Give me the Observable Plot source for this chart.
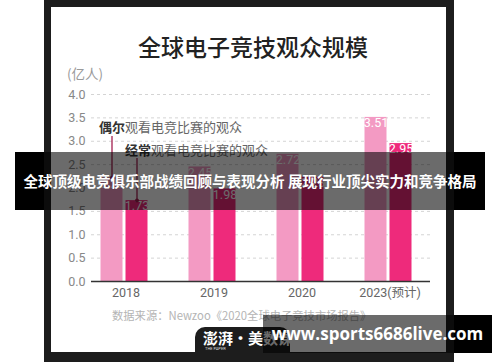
<!DOCTYPE html>
<html><head><meta charset="utf-8">
<script src="https://cdn.jsdelivr.net/npm/d3@7"></script>
<script src="https://cdn.jsdelivr.net/npm/@observablehq/plot@0.6"></script>
<style>
html,body{margin:0;padding:0;background:#fff;width:500px;height:362px;overflow:hidden;font-family:"Noto Sans CJK SC",sans-serif;position:relative}
.abs{position:absolute}
#bannerBase{left:15px;top:152px;width:470px;height:58px;background:#000;z-index:0}
#wmBase{left:263px;top:315px;width:229px;height:38px;background:#000;z-index:0}
#frame{left:44px;top:0;width:410px;height:362px;background:#1d1d1d;z-index:1}
#card{left:51px;top:7px;width:395px;height:345px;background:#fff;z-index:2}
#tab{left:195px;top:327px;width:95px;height:30px;background:#1d1d1d;border-radius:10px 10px 0 0;z-index:2}
#chart{left:0;top:0;z-index:3}
#title{left:138px;top:30px;font-size:23px;font-weight:500;color:#222;z-index:4;line-height:32px;white-space:nowrap}
#unit{left:67px;top:64px;font-size:13.5px;color:#9a9a9a;z-index:4;white-space:nowrap;line-height:18px}
#source{left:112px;top:307px;font-size:11.3px;color:#b4b4b4;z-index:4;white-space:nowrap;line-height:16px}
#tabText{left:203px;top:329px;font-size:15px;color:#fff;font-weight:bold;z-index:4;white-space:nowrap;line-height:18px}
#tabSmall{left:205px;top:346px;font-size:4px;color:#ddd;z-index:4;white-space:nowrap;line-height:5px;font-family:Roboto,sans-serif}
#bannerShade{left:44px;top:152px;width:410px;height:58px;background:rgba(0,0,0,0.58);z-index:5}
#bannerText{left:0;top:152px;width:500px;height:58px;line-height:58px;text-align:center;color:#fff;font-weight:bold;font-size:14.5px;z-index:6;white-space:nowrap}
#wmShade{left:263px;top:315px;width:191px;height:38px;background:rgba(0,0,0,0.58);z-index:5}
#wmText{left:263px;top:315px;width:229px;height:38px;line-height:38px;text-align:center;color:#fff;font-weight:bold;font-size:17px;z-index:6;white-space:nowrap;font-family:"Open Sans",sans-serif}
</style>
</head><body>
<div id="bannerBase" class="abs"></div>
<div id="wmBase" class="abs"></div>
<div id="frame" class="abs"></div>
<div id="card" class="abs"></div>
<div id="tab" class="abs"></div>
<div id="chart" class="abs"></div>
<div id="title" class="abs">全球电子竞技观众规模</div>
<div id="unit" class="abs">(亿人)</div>
<div id="source" class="abs">数据来源：Newzoo《2020全球电子竞技市场报告》</div>
<div id="tabText" class="abs">澎湃·美数课</div>
<div id="tabSmall" class="abs">THE PAPER</div>
<div id="bannerShade" class="abs"></div>
<div id="bannerText" class="abs">全球顶级电竞俱乐部战绩回顾与表现分析 展现行业顶尖实力和竞争格局</div>
<div id="wmShade" class="abs"></div>
<div id="wmText" class="abs">www.sports6686live.com</div>
<script>
const years = ["2018", "2019", "2020", "2023(预计)"];
const occasional = [2.22, 2.45, 2.72, 3.51];
const enthusiast = [1.73, 1.98, 2.23, 2.95];
const seriesNames = ["偶尔", "经常"];
const seriesRest = "观看电竞比赛的观众";
const yTicks = [0, 0.5, 1.0, 1.5, 2.0, 2.5, 3.0, 3.5, 4.0];
const annotTextY = [3.29, 2.80];
const annotLineTop = [3.10, 2.63];

const lightPink = "#f39ac3";
const darkPink = "#ee2a7b";
const lineColor = "#a3204f";

const occRows = years.map((y, i) => ({year: y, value: occasional[i]}));
const entRows = years.map((y, i) => ({year: y, value: enthusiast[i]}));
const annot = [
  {year: years[0], top: annotLineTop[0], bottom: occasional[0], ty: annotTextY[0], label: seriesNames[0], off: -12.5},
  {year: years[0], top: annotLineTop[1], bottom: enthusiast[0], ty: annotTextY[1], label: seriesNames[1], off: 12.5}
];

const chart = Plot.plot({
  width: 500, height: 362,
  marginLeft: 91, marginRight: 70, marginTop: 94, marginBottom: 81,
  style: {background: "transparent", fontFamily: "Roboto, 'Noto Sans CJK SC', sans-serif", fontSize: "12px"},
  x: {domain: years, range: [79.4, 432.2], paddingInner: 0.75, paddingOuter: 0.375, align: 0.5, label: null},
  y: {domain: [0, 4], label: null},
  marks: [
    Plot.ruleY(yTicks.filter(d => d > 0), {stroke: "#d4d4d4", strokeDasharray: "3,3", strokeWidth: 1}),
    Plot.barY(occRows, {x: "year", y: "value", fill: lightPink, dx: -12.5}),
    Plot.barY(entRows, {x: "year", y: "value", fill: darkPink, dx: 12.5}),
    Plot.text(occRows, {x: "year", y: "value", text: d => d.value.toFixed(2), dx: -12.5, dy: 1, lineAnchor: "top", fill: "#fff", fontSize: 12.5}),
    Plot.text(entRows, {x: "year", y: "value", text: d => d.value.toFixed(2), dx: 12.5, dy: 1, lineAnchor: "top", fill: "#fff", fontSize: 12.5}),
    Plot.ruleY([0], {stroke: "#333", strokeWidth: 1.5}),
    Plot.ruleX([annot[0]], {x: "year", y1: "top", y2: "bottom", dx: -12.5, stroke: lineColor, strokeWidth: 1.3}),
    Plot.ruleX([annot[1]], {x: "year", y1: "top", y2: "bottom", dx: 12.5, stroke: lineColor, strokeWidth: 1.3}),
    Plot.dot([annot[0]], {x: "year", y: "bottom", dx: -12.5, r: 2, fill: lineColor}),
    Plot.dot([annot[1]], {x: "year", y: "bottom", dx: 12.5, r: 2, fill: lineColor}),
    Plot.text([annot[0]], {x: "year", y: "ty", text: "label", dx: -25.5, textAnchor: "start", fill: "#333", fontWeight: "bold", fontSize: 13, fontFamily: "Noto Sans CJK SC"}),
    Plot.text([annot[0]], {x: "year", y: "ty", text: () => seriesRest, dx: 0.5, textAnchor: "start", fill: "#666", fontSize: 13, fontFamily: "Noto Sans CJK SC"}),
    Plot.text([annot[1]], {x: "year", y: "ty", text: "label", dx: 0.5, textAnchor: "start", fill: "#333", fontWeight: "bold", fontSize: 13, fontFamily: "Noto Sans CJK SC"}),
    Plot.text([annot[1]], {x: "year", y: "ty", text: () => seriesRest, dx: 26.5, textAnchor: "start", fill: "#666", fontSize: 13, fontFamily: "Noto Sans CJK SC"}),
    Plot.axisY({ticks: yTicks, tickFormat: d3.format(".1f"), tickSize: 0, tickPadding: 6, fill: "#888", fontSize: 12.5, label: null}),
    Plot.axisX({tickSize: 0, tickPadding: 7, fill: "#666", fontSize: 12.5, dx: 1.5, label: null})
  ]
});
document.getElementById("chart").appendChild(chart);
</script>
</body></html>
